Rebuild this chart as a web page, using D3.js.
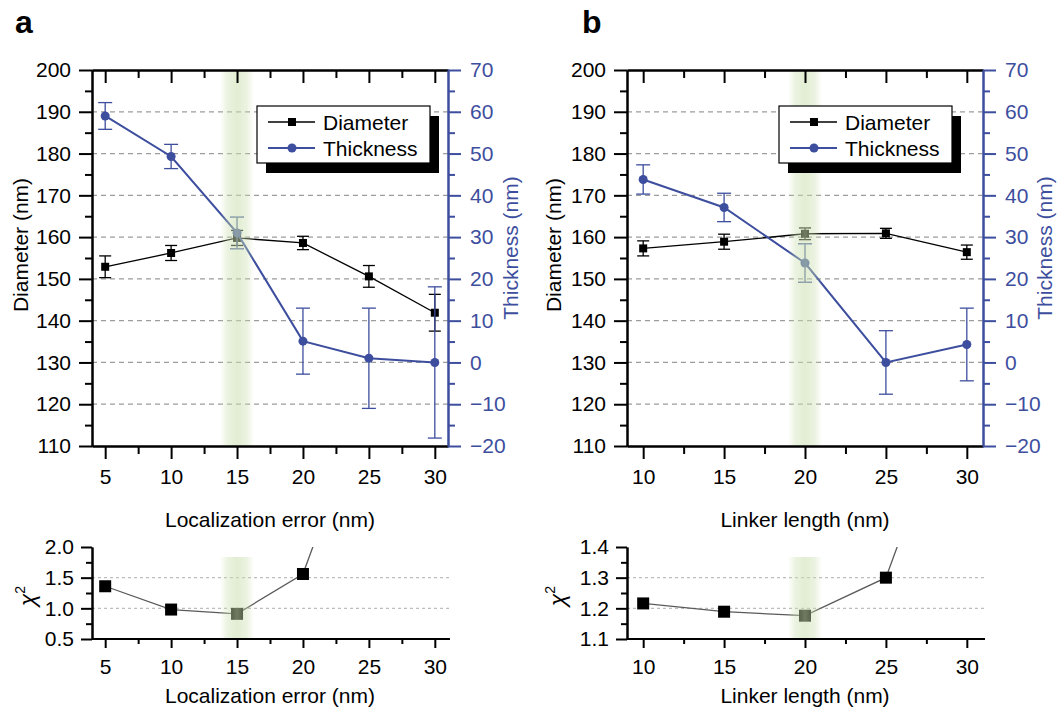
<!DOCTYPE html>
<html><head><meta charset="utf-8">
<script src="https://cdn.jsdelivr.net/npm/d3@7"></script>
<style>
body{margin:0;background:#fff;}
svg text{font-family:"Liberation Sans",Arial,sans-serif;}
</style></head><body>
<svg id="chart" width="1060" height="710"></svg>
<script>
// ---------- data ----------
// panel a
const xA = [5, 10, 15, 20, 25, 30];
const diamA = [152.9, 156.2, 159.8, 158.6, 150.6, 141.9];
const diamErrA = [2.6, 1.8, 1.8, 1.6, 2.6, 4.4];
const thickA = [59.0, 49.3, 31.0, 5.1, 1.0, 0.0];
const thickErrA = [3.2, 2.9, 3.8, 7.9, 12.0, 18.1];
const chiXA = [5, 10, 15, 20, 25];
const chiA = [1.36, 0.98, 0.91, 1.56, 4.5];
const chiTicksA = [0.5, 1.0, 1.5, 2.0];
const chiGridA = [1.0, 1.5];
// panel b
const xB = [10, 15, 20, 25, 30];
const diamB = [157.3, 158.9, 160.8, 160.9, 156.4];
const diamErrB = [1.8, 1.8, 1.4, 1.2, 1.7];
const thickB = [43.8, 37.1, 23.8, 0.0, 4.3];
const thickErrB = [3.5, 3.4, 4.6, 7.6, 8.7];
const chiXB = [10, 15, 20, 25, 30];
const chiB = [1.216, 1.189, 1.176, 1.30, 2.02];
const chiTicksB = [1.1, 1.2, 1.3, 1.4];
const chiGridB = [1.2, 1.3];
// shared tick labels
const diamTicks = [110, 120, 130, 140, 150, 160, 170, 180, 190, 200];
const thickTicks = [-20, -10, 0, 10, 20, 30, 40, 50, 60, 70];
const xTicksA = [5, 10, 15, 20, 25, 30];
const xTicksB = [10, 15, 20, 25, 30];
const legendNames = ["Diameter", "Thickness"];

const BLUE = "#3d4e9e";
const FONT = 21;
const svg = d3.select("#chart");
const defs = svg.append("defs");
const grad = defs.append("linearGradient").attr("id", "band")
  .attr("x1", "0%").attr("x2", "100%").attr("y1", "0%").attr("y2", "0%");
[[0, 0], [0.22, 0.38], [0.5, 0.55], [0.78, 0.38], [1, 0]].forEach(([o, a]) =>
  grad.append("stop").attr("offset", o).attr("stop-color", "#cadfae").attr("stop-opacity", a));

function styleAxis(sel, color, sw) {
  sel.selectAll("path.domain").attr("stroke", color).attr("stroke-width", sw);
  sel.selectAll(".tick line").attr("stroke", color).attr("stroke-width", sw);
  sel.selectAll(".tick text").attr("fill", color).style("font-size", FONT + "px")
    .style("font-family", '"Liberation Sans",Arial,sans-serif');
}
function minorVals(ticks) {
  const out = [];
  for (let i = 0; i < ticks.length - 1; i++) out.push((ticks[i] + ticks[i + 1]) / 2);
  return out;
}

function drawPanel(p) {
  const g = svg.append("g");
  const x = d3.scaleLinear().domain(p.xDomain).range([p.left, p.right]);
  const yL = d3.scaleLinear().domain([110, 200]).range([p.bottom, p.top]);
  const yR = d3.scaleLinear().domain([-20, 70]).range([p.bottom, p.top]);

  // gridlines
  g.append("g").selectAll("line").data(diamTicks.slice(1, -1)).join("line")
    .attr("x1", p.left).attr("x2", p.right)
    .attr("y1", d => yL(d)).attr("y2", d => yL(d))
    .attr("stroke", "#9c9c9c").attr("stroke-width", 1.2).attr("stroke-dasharray", "5,4");

  // diameter series
  const dg = g.append("g");
  dg.append("path").datum(p.xs.map((v, i) => [v, p.diam[i]]))
    .attr("d", d3.line().x(d => x(d[0])).y(d => yL(d[1])))
    .attr("fill", "none").attr("stroke", "#000").attr("stroke-width", 1.3);
  p.xs.forEach((v, i) => {
    const cx = x(v), y1 = yL(p.diam[i] + p.diamErr[i]), y2 = yL(p.diam[i] - p.diamErr[i]);
    dg.append("line").attr("x1", cx).attr("x2", cx).attr("y1", y1).attr("y2", y2).attr("stroke", "#000").attr("stroke-width", 1.3);
    [y1, y2].forEach(yy => dg.append("line").attr("x1", cx - 6).attr("x2", cx + 6).attr("y1", yy).attr("y2", yy).attr("stroke", "#000").attr("stroke-width", 1.3));
  });
  dg.selectAll("rect").data(p.xs.map((v, i) => [v, p.diam[i]])).join("rect")
    .attr("x", d => x(d[0]) - 4).attr("y", d => yL(d[1]) - 4).attr("width", 8).attr("height", 8).attr("fill", "#000");

  // thickness series
  const tg = g.append("g");
  p.xs.forEach((v, i) => {
    const cx = x(v), y1 = yR(p.thick[i] + p.thickErr[i]), y2 = yR(p.thick[i] - p.thickErr[i]);
    tg.append("line").attr("x1", cx).attr("x2", cx).attr("y1", y1).attr("y2", y2).attr("stroke", BLUE).attr("stroke-width", 1.3);
    [y1, y2].forEach(yy => tg.append("line").attr("x1", cx - 7).attr("x2", cx + 7).attr("y1", yy).attr("y2", yy).attr("stroke", BLUE).attr("stroke-width", 1.3));
  });
  tg.append("path").datum(p.xs.map((v, i) => [v, p.thick[i]]))
    .attr("d", d3.line().x(d => x(d[0])).y(d => yR(d[1])))
    .attr("fill", "none").attr("stroke", BLUE).attr("stroke-width", 2);
  tg.selectAll("circle").data(p.xs.map((v, i) => [v, p.thick[i]])).join("circle")
    .attr("cx", d => x(d[0])).attr("cy", d => yR(d[1])).attr("r", 4.5).attr("fill", BLUE);

  // highlight band
  g.append("rect").attr("x", x(p.best) - 17).attr("width", 34)
    .attr("y", p.top).attr("height", p.bottom - p.top).attr("fill", "url(#band)");

  // axes
  const ax = g.append("g");
  const bMaj = ax.append("g").attr("transform", `translate(0,${p.bottom})`)
    .call(d3.axisBottom(x).tickValues(p.xTicks).tickSize(13).tickSizeOuter(0).tickPadding(10));
  styleAxis(bMaj, "#000", 2);
  const bMin = ax.append("g").attr("transform", `translate(0,${p.bottom})`)
    .call(d3.axisBottom(x).tickValues(minorVals(p.xTicks)).tickSize(8).tickSizeOuter(0).tickFormat(""));
  styleAxis(bMin, "#000", 2);
  const tMaj = ax.append("g").attr("transform", `translate(0,${p.top})`)
    .call(d3.axisTop(x).tickValues(p.xTicks).tickSize(-13).tickSizeOuter(0).tickFormat(""));
  styleAxis(tMaj, "#000", 2);
  const tMin = ax.append("g").attr("transform", `translate(0,${p.top})`)
    .call(d3.axisTop(x).tickValues(minorVals(p.xTicks)).tickSize(-8).tickSizeOuter(0).tickFormat(""));
  styleAxis(tMin, "#000", 2);
  const lMaj = ax.append("g").attr("transform", `translate(${p.left},0)`)
    .call(d3.axisLeft(yL).tickValues(diamTicks).tickSize(13).tickSizeOuter(0).tickPadding(8));
  styleAxis(lMaj, "#000", 2);
  const lMin = ax.append("g").attr("transform", `translate(${p.left},0)`)
    .call(d3.axisLeft(yL).tickValues(minorVals(diamTicks)).tickSize(7).tickSizeOuter(0).tickFormat(""));
  styleAxis(lMin, "#000", 2);
  const rMaj = ax.append("g").attr("transform", `translate(${p.right},0)`)
    .call(d3.axisRight(yR).tickValues(thickTicks).tickSize(13).tickSizeOuter(0).tickPadding(9));
  styleAxis(rMaj, BLUE, 2);
  const rMin = ax.append("g").attr("transform", `translate(${p.right},0)`)
    .call(d3.axisRight(yR).tickValues(minorVals(thickTicks)).tickSize(7).tickSizeOuter(0).tickFormat(""));
  styleAxis(rMin, BLUE, 2);

  // axis titles
  g.append("text").attr("transform", `translate(${p.yLabelX},245) rotate(-90)`)
    .attr("text-anchor", "middle").style("font-size", FONT + "px").text("Diameter (nm)");
  g.append("text").attr("transform", `translate(${p.rLabelX},248) rotate(-90)`)
    .attr("text-anchor", "middle").attr("fill", BLUE).style("font-size", FONT + "px").text("Thickness (nm)");
  g.append("text").attr("x", (p.left + p.right) / 2).attr("y", 527)
    .attr("text-anchor", "middle").style("font-size", FONT + "px").text(p.xLabel);
  g.append("text").attr("x", p.letterX).attr("y", 33)
    .style("font-size", "32px").style("font-weight", "bold").text(p.letter);

  // legend
  const lx = p.legendX, ly = 106, lw = 173, lh = 57;
  const lg = g.append("g");
  lg.append("rect").attr("x", lx + 9).attr("y", ly + 10).attr("width", lw).attr("height", lh).attr("fill", "#000");
  lg.append("rect").attr("x", lx).attr("y", ly).attr("width", lw).attr("height", lh)
    .attr("fill", "#fff").attr("stroke", "#000").attr("stroke-width", 1.2);
  legendNames.forEach((name, i) => {
    const yy = ly + 16 + i * 26;
    const col = i === 0 ? "#000" : BLUE;
    lg.append("line").attr("x1", lx + 11).attr("x2", lx + 58).attr("y1", yy).attr("y2", yy)
      .attr("stroke", col).attr("stroke-width", i === 0 ? 1.3 : 2);
    if (i === 0) lg.append("rect").attr("x", lx + 31).attr("y", yy - 4).attr("width", 8).attr("height", 8).attr("fill", col);
    else lg.append("circle").attr("cx", lx + 35).attr("cy", yy).attr("r", 4.5).attr("fill", col);
    lg.append("text").attr("x", lx + 66).attr("y", yy).attr("dy", "0.36em")
      .style("font-size", FONT + "px").text(name);
  });

  // ---------- chi-square sub panel ----------
  const cTop = 547, cBot = 639;
  const yC = d3.scaleLinear().domain(p.chiDomain).range([cBot, cTop]);
  const cg = svg.append("g");
  cg.append("g").selectAll("line").data(p.chiGrid).join("line")
    .attr("x1", p.left).attr("x2", p.right + 2).attr("y1", d => yC(d)).attr("y2", d => yC(d))
    .attr("stroke", "#bdbdbd").attr("stroke-width", 1.2).attr("stroke-dasharray", "3,3");
  const clipId = "clip" + p.letter;
  defs.append("clipPath").attr("id", clipId).append("rect")
    .attr("x", p.left).attr("y", cTop).attr("width", p.right - p.left + 10).attr("height", cBot - cTop);
  const cd = cg.append("g").attr("clip-path", `url(#${clipId})`);
  const chiPts = p.chiX.map((v, i) => [v, p.chi[i]]);
  cd.append("path").datum(chiPts).attr("d", d3.line().x(d => x(d[0])).y(d => yC(d[1])))
    .attr("fill", "none").attr("stroke", "#5a5a5a").attr("stroke-width", 1.3);
  cd.selectAll("rect").data(chiPts).join("rect")
    .attr("x", d => x(d[0]) - 6).attr("y", d => yC(d[1]) - 6).attr("width", 12).attr("height", 12).attr("fill", "#000");
  cg.append("rect").attr("x", x(p.best) - 17).attr("width", 34).attr("y", 557).attr("height", cBot - 557)
    .attr("fill", "url(#band)");
  const cb = cg.append("g").attr("transform", `translate(0,${cBot})`)
    .call(d3.axisBottom(x).tickValues(p.xTicks).tickSize(9).tickSizeOuter(0).tickPadding(11));
  styleAxis(cb, "#000", 2);
  cb.select("path.domain").attr("d", `M${p.left},0H${p.right + 2}`);
  const cbm = cg.append("g").attr("transform", `translate(0,${cBot})`)
    .call(d3.axisBottom(x).tickValues(minorVals(p.xTicks)).tickSize(5).tickSizeOuter(0).tickFormat(""));
  styleAxis(cbm, "#000", 2);
  cbm.select("path.domain").remove();
  const cl = cg.append("g").attr("transform", `translate(${p.left},0)`)
    .call(d3.axisLeft(yC).tickValues(p.chiTicks).tickFormat(d3.format(".1f")).tickSize(11).tickSizeOuter(0).tickPadding(7));
  styleAxis(cl, "#000", 2);
  const clm = cg.append("g").attr("transform", `translate(${p.left},0)`)
    .call(d3.axisLeft(yC).tickValues(minorVals(p.chiTicks)).tickSize(6).tickSizeOuter(0).tickFormat(""));
  styleAxis(clm, "#000", 2);
  cg.append("text").attr("x", (p.left + p.right) / 2).attr("y", 703)
    .attr("text-anchor", "middle").style("font-size", FONT + "px").text(p.xLabel);
  const chiT = cg.append("text").attr("transform", `translate(${p.chiLabelX},596) rotate(-90)`)
    .attr("text-anchor", "middle").style("font-size", "23px");
  chiT.append("tspan").style("font-style", "italic").text("χ");
  chiT.append("tspan").attr("dy", -10).style("font-size", "14px").text("2");
}

drawPanel({
  letter: "a", letterX: 15, left: 92, right: 448, top: 70, bottom: 446,
  xDomain: [4, 31], xTicks: xTicksA, xs: xA, diam: diamA, diamErr: diamErrA,
  thick: thickA, thickErr: thickErrA, best: 15, legendX: 257,
  yLabelX: 28, rLabelX: 518, chiLabelX: 35, xLabel: "Localization error (nm)",
  chiX: chiXA, chi: chiA, chiDomain: [0.5, 2.0], chiTicks: chiTicksA, chiGrid: chiGridA
});
drawPanel({
  letter: "b", letterX: 582, left: 627, right: 983, top: 70, bottom: 446,
  xDomain: [9, 31], xTicks: xTicksB, xs: xB, diam: diamB, diamErr: diamErrB,
  thick: thickB, thickErr: thickErrB, best: 20, legendX: 779,
  yLabelX: 561, rLabelX: 1052, chiLabelX: 565, xLabel: "Linker length (nm)",
  chiX: chiXB, chi: chiB, chiDomain: [1.1, 1.4], chiTicks: chiTicksB, chiGrid: chiGridB
});
</script></body></html>
